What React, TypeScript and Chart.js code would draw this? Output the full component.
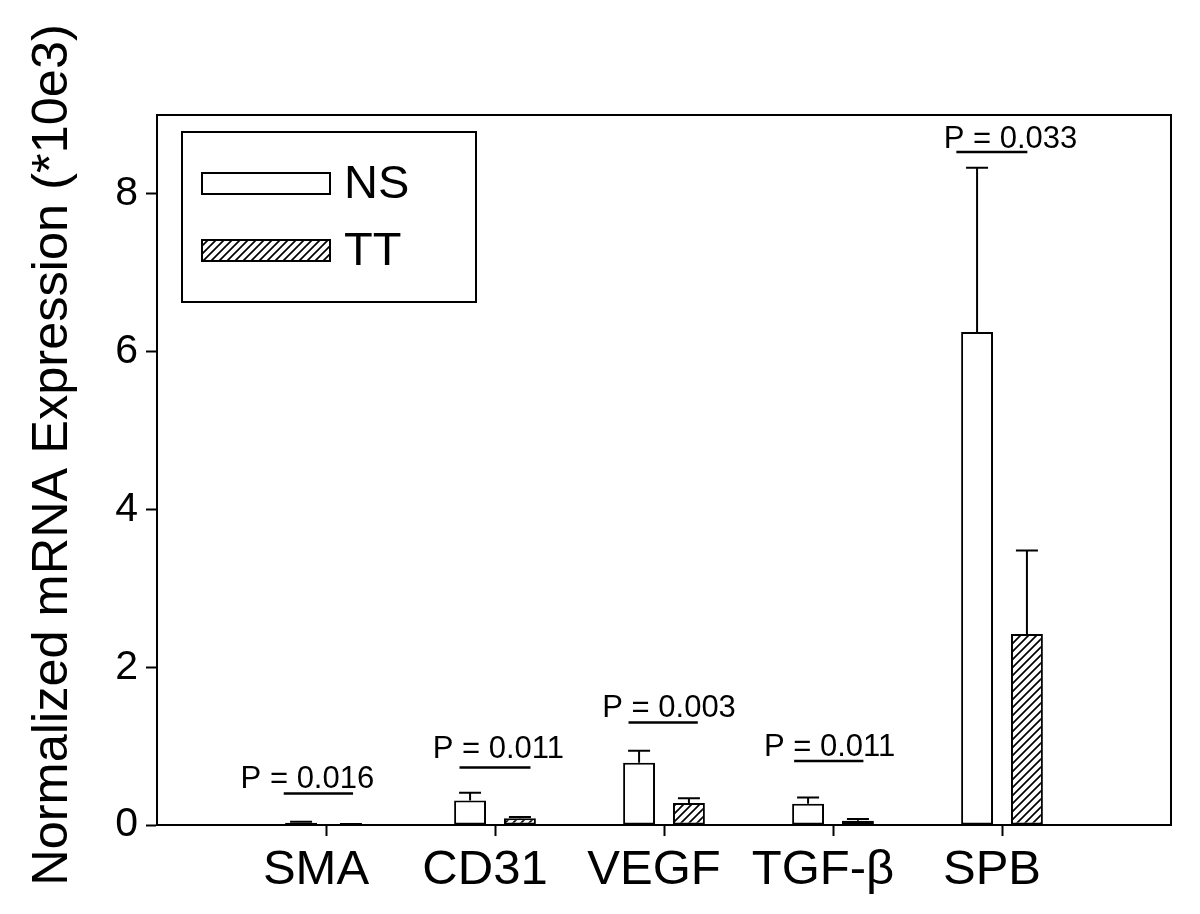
import React, { useEffect, useRef } from 'react';
import { Chart, registerables } from 'chart.js';

Chart.register(...registerables);

// ---------------- data ----------------
const categories = ['SMA', 'CD31', 'VEGF', 'TGF-β', 'SPB'];
const seriesNames = ['NS', 'TT'];
const nsValues = [0.03, 0.31, 0.79, 0.27, 6.25];
const nsErrors = [0.01, 0.1, 0.15, 0.08, 2.08];
const ttValues = [0.01, 0.085, 0.28, 0.055, 2.42];
const ttErrors = [0.004, 0.015, 0.06, 0.02, 1.06];
const yTicks = [0, 2, 4, 6, 8];
const yMax = 9;
const yTitle = 'Normalized mRNA Expression (*10e3)';
const pLabels = ['P = 0.016', 'P = 0.011', 'P = 0.003', 'P = 0.011', 'P = 0.033'];
const pLineLevels = [0.4, 0.73, 1.3, 0.81, 8.53];
const pTextLevels = [0.47, 0.85, 1.37, 0.87, 8.58];

// annotation placement (offsets in category units)
const pLineFrom = [-0.25, -0.21, -0.21, -0.23, -0.27];
const pLineTo = [0.16, 0.21, 0.2, 0.18, 0.15];
const pTextShift = [-0.11, 0.02, 0.03, -0.02, 0.05];

const FONT = '"Liberation Sans", Arial, Helvetica, sans-serif';

function makeHatch(): CanvasPattern | string {
  const s = 8;
  const c = document.createElement('canvas');
  c.width = s;
  c.height = s;
  const g = c.getContext('2d');
  if (!g) return '#888';
  g.fillStyle = '#fff';
  g.fillRect(0, 0, s, s);
  g.strokeStyle = '#000';
  g.lineWidth = 1.7;
  g.beginPath();
  g.moveTo(0, s);
  g.lineTo(s, 0);
  g.moveTo(-2, 2);
  g.lineTo(2, -2);
  g.moveTo(s - 2, s + 2);
  g.lineTo(s + 2, s - 2);
  g.stroke();
  return g.createPattern(c, 'repeat') || '#888';
}

const errorBarPlugin = {
  id: 'errorBars',
  afterDatasetsDraw(chart: any) {
    const ctx = chart.ctx;
    const ys = chart.scales.y;
    chart.data.datasets.forEach((ds: any, di: number) => {
      const meta = chart.getDatasetMeta(di);
      meta.data.forEach((bar: any, i: number) => {
        const v = ds.data[i];
        const e = ds.errors ? ds.errors[i] : null;
        if (v == null || e == null) return;
        const top = ys.getPixelForValue(v + e);
        ctx.save();
        ctx.strokeStyle = '#000';
        ctx.lineWidth = 2;
        ctx.beginPath();
        ctx.moveTo(bar.x, bar.y);
        ctx.lineTo(bar.x, top);
        ctx.moveTo(bar.x - 11, top);
        ctx.lineTo(bar.x + 11, top);
        ctx.stroke();
        ctx.restore();
      });
    });
  },
};

const framePlugin = {
  id: 'frame',
  afterDraw(chart: any) {
    const { ctx, chartArea } = chart;
    ctx.save();
    ctx.strokeStyle = '#000';
    ctx.lineWidth = 2;
    ctx.beginPath();
    ctx.moveTo(chartArea.left, chartArea.top);
    ctx.lineTo(chartArea.right, chartArea.top);
    ctx.lineTo(chartArea.right, chartArea.bottom);
    ctx.stroke();
    ctx.restore();
  },
};

const annotationPlugin = {
  id: 'pAnnotations',
  afterDraw(chart: any) {
    const { ctx } = chart;
    const xs = chart.scales.x;
    const ys = chart.scales.y;
    ctx.save();
    ctx.strokeStyle = '#000';
    ctx.fillStyle = '#000';
    ctx.lineWidth = 2.5;
    ctx.font = `31px ${FONT}`;
    ctx.textAlign = 'center';
    ctx.textBaseline = 'alphabetic';
    pLabels.forEach((label, i) => {
      const idx = i + 1;
      const ly = ys.getPixelForValue(pLineLevels[i]);
      ctx.beginPath();
      ctx.moveTo(xs.getPixelForValue(idx + pLineFrom[i]), ly);
      ctx.lineTo(xs.getPixelForValue(idx + pLineTo[i]), ly);
      ctx.stroke();
      ctx.fillText(label, xs.getPixelForValue(idx + pTextShift[i]), ys.getPixelForValue(pTextLevels[i]));
    });
    ctx.restore();
  },
};

const legendPlugin = {
  id: 'boxLegend',
  afterDraw(chart: any) {
    const { ctx, chartArea } = chart;
    const bx = chartArea.left + 25;
    const by = chartArea.top + 17;
    ctx.save();
    ctx.fillStyle = '#fff';
    ctx.strokeStyle = '#000';
    ctx.lineWidth = 2;
    ctx.fillRect(bx, by, 294, 170);
    ctx.strokeRect(bx, by, 294, 170);
    chart.data.datasets.forEach((ds: any, i: number) => {
      const sx = bx + 20;
      const sy = by + 41 + i * 67;
      ctx.fillStyle = ds.backgroundColor;
      ctx.fillRect(sx, sy, 128, 21);
      ctx.lineWidth = 2;
      ctx.strokeRect(sx, sy, 128, 21);
      ctx.fillStyle = '#000';
      ctx.font = `47px ${FONT}`;
      ctx.textAlign = 'left';
      ctx.textBaseline = 'middle';
      ctx.fillText(ds.label, sx + 142, sy + 12);
    });
    ctx.restore();
  },
};

const yTitlePlugin = {
  id: 'yTitle',
  afterDraw(chart: any) {
    const { ctx } = chart;
    ctx.save();
    ctx.translate(53, 455);
    ctx.rotate(-Math.PI / 2);
    ctx.fillStyle = '#000';
    ctx.font = `50.5px ${FONT}`;
    ctx.textAlign = 'center';
    ctx.textBaseline = 'middle';
    ctx.fillText(yTitle, 0, 0);
    ctx.restore();
  },
};

export default function App() {
  const ref = useRef<HTMLCanvasElement | null>(null);

  useEffect(() => {
    if (!ref.current) return;
    const hatch = makeHatch();
    const labels = ['', ...categories, ''];
    const pad = (arr: number[]) => [null, ...arr, null];
    const chart = new Chart(ref.current, {
      type: 'bar',
      data: {
        labels,
        datasets: [
          {
            label: seriesNames[0],
            data: pad(nsValues) as any,
            errors: pad(nsErrors),
            backgroundColor: '#ffffff',
            borderColor: '#000',
            borderWidth: 2,
            borderSkipped: false,
            categoryPercentage: 0.59,
            barPercentage: 0.64,
          } as any,
          {
            label: seriesNames[1],
            data: pad(ttValues) as any,
            errors: pad(ttErrors),
            backgroundColor: hatch,
            borderColor: '#000',
            borderWidth: 2,
            borderSkipped: false,
            categoryPercentage: 0.59,
            barPercentage: 0.64,
          } as any,
        ],
      },
      options: {
        responsive: false,
        animation: false,
        devicePixelRatio: 1,
        layout: { padding: { top: 115, right: 29, left: 0, bottom: 0 } },
        plugins: {
          legend: { display: false },
          tooltip: { enabled: false },
        },
        scales: {
          x: {
            offset: false,
            afterFit: (s: any) => {
              s.height = 89;
            },
            grid: {
              offset: false,
              drawOnChartArea: false,
              drawTicks: true,
              tickLength: 11,
              tickWidth: 2,
              tickColor: (c: any) => (c.index === 0 || c.index === categories.length + 1 ? 'rgba(0,0,0,0)' : '#000'),
            },
            border: { display: true, color: '#000', width: 2 },
            ticks: {
              color: '#000',
              font: { family: FONT, size: 49 },
              padding: 5,
              labelOffset: -10,
              maxRotation: 0,
              autoSkip: false,
            },
          },
          y: {
            min: 0,
            max: yMax,
            afterFit: (s: any) => {
              s.width = 157;
            },
            afterBuildTicks: (s: any) => {
              s.ticks = yTicks.map((v) => ({ value: v }));
            },
            grid: {
              drawOnChartArea: false,
              drawTicks: true,
              tickLength: 11,
              tickWidth: 2,
              tickColor: '#000',
            },
            border: { display: true, color: '#000', width: 2 },
            ticks: {
              color: '#000',
              font: { family: FONT, size: 41 },
              padding: 8,
            },
          },
        },
      },
      plugins: [errorBarPlugin, framePlugin, annotationPlugin, legendPlugin, yTitlePlugin],
    });
    return () => chart.destroy();
  }, []);

  return (
    <div style={{ position: 'fixed', left: 0, top: 0, width: 1200, height: 914, background: '#fff' }}>
      <canvas ref={ref} width={1200} height={914} style={{ width: 1200, height: 914, display: 'block' }} />
    </div>
  );
}
